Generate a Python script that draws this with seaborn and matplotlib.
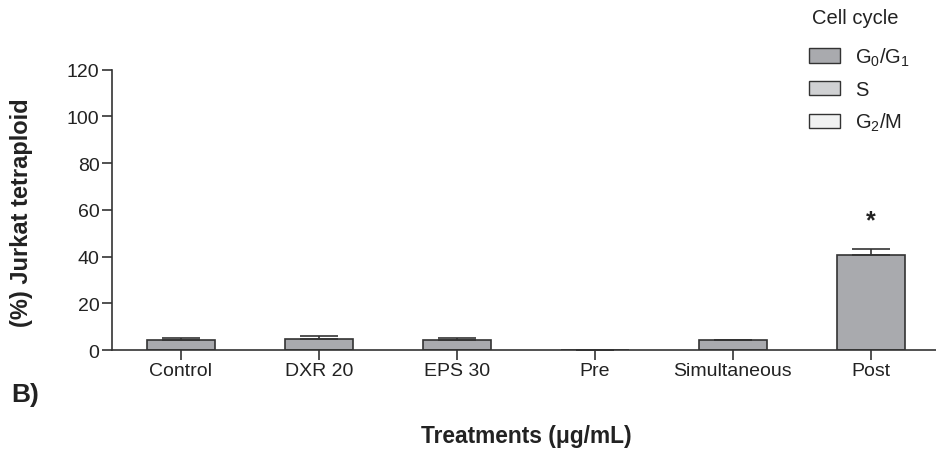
import matplotlib
matplotlib.use("Agg")
import matplotlib.pyplot as plt
import matplotlib.patches as mpatches
import seaborn as sns
import numpy as np
import pandas as pd

# ---- data ----
treatments = ["Control", "DXR 20", "EPS 30", "Pre", "Simultaneous", "Post"]
g0g1_values = [4.4, 4.6, 4.1, 0.0, 4.1, 40.8]
g0g1_errors = [0.7, 1.4, 1.2, 0.0, 0.2, 2.3]
legend_labels = [r"G$_0$/G$_1$", "S", r"G$_2$/M"]
legend_colors = ["#a9aaae", "#d0d1d3", "#f1f2f2"]
yticks = [0, 20, 40, 60, 80, 100, 120]
significant = ["Post"]

sns.set_theme(style="white")
plt.rcParams["font.family"] = ["Liberation Sans", "DejaVu Sans"]
plt.rcParams["mathtext.default"] = "regular"

txt = "#222222"
line = "#333333"

fig = plt.figure(figsize=(9.37, 4.52), dpi=100)
W, H = 937, 452
ax = fig.add_axes([112 / W, 1 - 351 / H, 825 / W, (351 - 70.7) / H])

df = pd.DataFrame({"treatment": treatments, "value": g0g1_values})
sns.barplot(data=df, x="treatment", y="value", color=legend_colors[0],
            saturation=1, width=0.49, edgecolor=line, linewidth=1.2,
            errorbar=None, ax=ax)

x = np.arange(len(treatments))
err = np.array(g0g1_errors)
ax.errorbar(x, g0g1_values, yerr=[np.zeros_like(err), err], fmt="none",
            ecolor=line, elinewidth=1.2, capsize=14, capthick=1.2, zorder=1)

for t in significant:
    i = treatments.index(t)
    ax.text(i, 55.5, "*", ha="center", va="center", fontsize=18,
            fontweight="bold", color=txt)

ax.set_xlim(-0.5, 5.48)
ax.set_ylim(0, 120)
ax.set_yticks(yticks)
ax.set_yticklabels([str(v) for v in yticks], fontsize=14, color=txt)
ax.set_xticks(x)
ax.set_xticklabels(treatments, fontsize=14, color=txt)
ax.set_xlabel("")
ax.set_ylabel("")
for s in ["top", "right"]:
    ax.spines[s].set_visible(False)
for s in ["left", "bottom"]:
    ax.spines[s].set_color(line)
    ax.spines[s].set_linewidth(1.2)
ax.tick_params(axis="both", direction="out", length=7, width=1.2,
               color=line, pad=2)
ax.tick_params(axis="both", which="both", left=True, bottom=True)

fig.text(22 / W, 1 - 213 / H, "(%) Jurkat tetraploid", rotation=90,
         ha="center", va="center", fontsize=17, fontweight="bold", color=txt)
fig.text(526 / W, 1 - 437 / H, "Treatments (\u03bcg/mL)", ha="center",
         va="center", fontsize=16.4, fontweight="bold", color=txt)
fig.text(11 / W, 1 - 395 / H, "B)", ha="left", va="center", fontsize=19,
         fontweight="bold", color=txt)

# legend title and entries
fig.text(855 / W, 1 - 19 / H, "Cell cycle", ha="center", va="center",
         fontsize=14.5, color=txt)
handles = [mpatches.Patch(facecolor=c, edgecolor=line, linewidth=1.0, label=l)
           for c, l in zip(legend_colors, legend_labels)]
leg = fig.legend(handles=handles, loc="upper left",
                 bbox_to_anchor=(802 / W, 1 - 39.5 / H), frameon=False,
                 borderpad=0.35, borderaxespad=0,
                 fontsize=14.5, handlelength=1.55,
                 handleheight=0.75, labelspacing=0.6, handletextpad=0.75)
for t in leg.get_texts():
    t.set_color(txt)

fig.savefig("out.png", dpi=100)
